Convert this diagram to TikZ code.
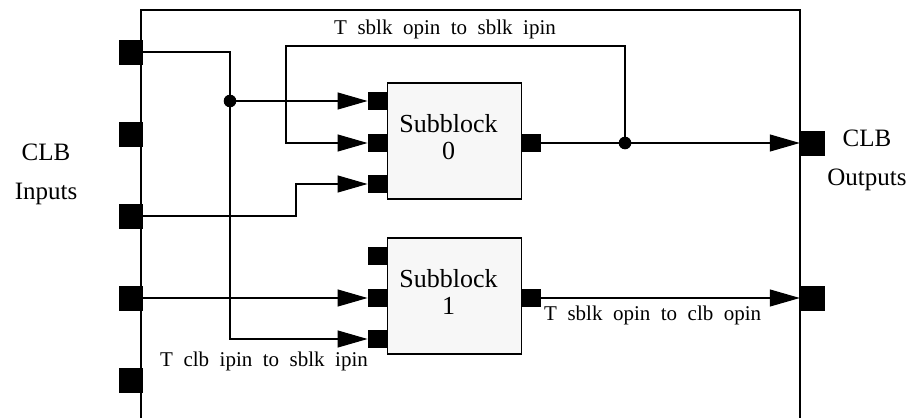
\documentclass[tikz,border=0pt]{standalone}
\usepackage{fontspec}
\setmainfont{Liberation Serif}
\usetikzlibrary{positioning,arrows.meta}

\begin{document}
\begin{tikzpicture}[x=1pt,y=-1pt,
wire/.style={line width=1.1pt},
clbpad/.style={fill=black,inner sep=0pt,minimum width=24pt,minimum height=25pt},
sbpin/.style={fill=black,inner sep=0pt,minimum width=19pt,minimum height=18pt},
subblock/.style={draw,line width=1.1pt,fill=black!3,minimum width=134pt,minimum height=116pt,inner sep=0pt},
sbtext/.style={align=center,inner sep=0pt,xshift=-6pt,yshift=4pt,font=\fontsize{26}{27}\selectfont},
wirelabel/.style={anchor=base west,inner sep=0pt,font=\fontsize{21}{25}\selectfont},
sidelabel/.style={align=center,inner sep=0pt,font=\fontsize{25}{39}\selectfont},
>={Triangle[length=30pt,width=17pt]}]
\useasboundingbox (0,0) rectangle (914,418);
% CLB outline
\draw[line width=1.2pt] (141,420) -- (141,10) -- (800,10) -- (800,420);
% CLB pads
\foreach \y [count=\i from 0] in {52,134,216,298,380}
  \node[clbpad] (in\i) at (131,\y) {};
\node[clbpad,minimum width=25pt] (out0) at (812.5,143) {};
\node[clbpad,minimum width=25pt] (out1) at (812.5,298) {};
% subblocks
\node[subblock,label={[sbtext]center:{Subblock\\0}}] (sb0) at (454.5,141) {};
\node[subblock,label={[sbtext]center:{Subblock\\1}}] (sb1) at (454.5,296) {};
\node[sbpin,anchor=east] (sb0a) at (sb0.west |- 0,101) {};
\node[sbpin,anchor=east] (sb0b) at (sb0.west |- 0,143) {};
\node[sbpin,anchor=east] (sb0c) at (sb0.west |- 0,184) {};
\node[sbpin,anchor=west] (sb0o) at (sb0.east |- 0,143) {};
\node[sbpin,anchor=east] (sb1a) at (sb1.west |- 0,256) {};
\node[sbpin,anchor=east] (sb1b) at (sb1.west |- 0,298) {};
\node[sbpin,anchor=east] (sb1c) at (sb1.west |- 0,339) {};
\node[sbpin,anchor=west] (sb1o) at (sb1.east |- 0,298) {};
% junctions and bends
\coordinate (j0) at (230,101);
\coordinate (j1) at (625,143);
\coordinate (fb0) at (625,46);
\coordinate (fb1) at (286,46);
\coordinate (k2) at (296,216);
% wires
\draw[wire,->] (in0.east) -| (j0) |- (sb1c);
\draw[wire,->] (j0) -- (sb0a);
\draw[wire,->] (in2.east) -- (k2) |- (sb0c);
\draw[wire,->] (in3.east) -- (sb1b);
\draw[wire,->] (sb0o.east) -- (out0);
\draw[wire,->] (j1) -- (fb0) -- (fb1) |- (sb0b);
\draw[wire,->] (sb1o.east) -- (out1);
\fill (j0) circle (6.3pt);
\fill (j1) circle (6.3pt);
% labels
\node[wirelabel] (lfb) at (334,34) {T\enspace sblk\enspace opin\enspace to\enspace sblk\enspace ipin};
\node[wirelabel] (lin) at (160,366) {T\enspace clb\enspace ipin\enspace to\enspace sblk\enspace ipin};
\node[wirelabel] (lout) at (544,320) {T\enspace sblk\enspace opin\enspace to\enspace clb\enspace opin};
\node[sidelabel,anchor=base] (clbin) at (46,199) {CLB\\Inputs};
\node[sidelabel,anchor=base] (clbout) at (867,185) {CLB\\Outputs};
\end{tikzpicture}
\end{document}
